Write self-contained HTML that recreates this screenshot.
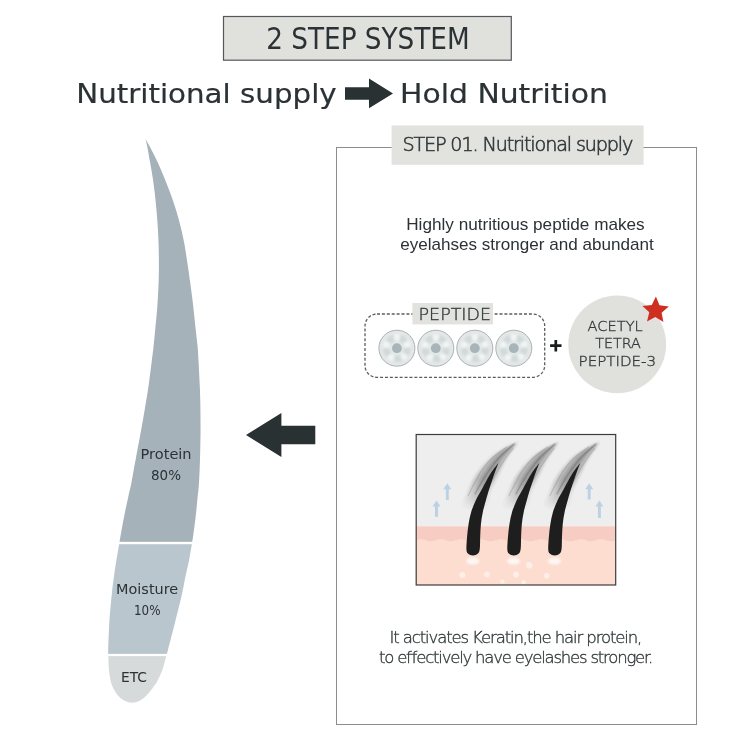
<!DOCTYPE html>
<html lang="en">
<head>
<meta charset="utf-8">
<title>2 STEP SYSTEM</title>
<style>
html,body{margin:0;padding:0;background:#fff;}
body{width:736px;height:737px;overflow:hidden;font-family:"Liberation Sans",sans-serif;}
svg{display:block;opacity:0.999;}
text{font-family:"Liberation Sans",sans-serif;fill:#2b3235;}
.m{font-family:"DejaVu Sans","Liberation Sans",sans-serif;}
.c{font-family:"DejaVu Sans Condensed","DejaVu Sans","Liberation Sans",sans-serif;}
.l{font-family:"DejaVu Sans Light","DejaVu Sans","Liberation Sans",sans-serif;font-weight:200;fill:#33393b;stroke:#33393b;stroke-width:0.35px;}
</style>
</head>
<body>
<svg width="736" height="737" viewBox="0 0 736 737">
<defs>
<filter id="bl" x="-30%" y="-30%" width="160%" height="160%"><feGaussianBlur stdDeviation="1.3"/></filter>
<filter id="bl3" x="-30%" y="-30%" width="160%" height="160%"><feGaussianBlur stdDeviation="0.9"/></filter>
<filter id="bl4" x="-30%" y="-30%" width="160%" height="160%"><feGaussianBlur stdDeviation="0.5"/></filter>
<filter id="bl2" x="-30%" y="-30%" width="160%" height="160%"><feGaussianBlur stdDeviation="1"/></filter>
<linearGradient id="sg" gradientUnits="userSpaceOnUse" x1="0" y1="-46" x2="0" y2="-76"><stop offset="0" stop-color="#4a4a4a" stop-opacity="0"/><stop offset="1" stop-color="#4a4a4a" stop-opacity="1"/></linearGradient>
<clipPath id="hc"><path d="M145.5 139.0C145.8 140.2 146.4 142.4 147.2 146.3C148.0 150.2 149.1 157.2 150.1 162.6C151.1 168.0 152.1 173.5 152.9 178.9C153.7 184.3 154.4 189.8 155.0 195.2C155.6 200.6 156.1 206.1 156.6 211.5C157.1 216.9 157.5 222.4 157.8 227.8C158.1 233.2 158.4 237.7 158.6 244.1C158.8 250.5 158.9 259.9 158.9 266.3C158.9 272.7 158.8 277.2 158.6 282.6C158.4 288.0 158.1 293.5 157.8 298.9C157.5 304.3 157.1 309.8 156.6 315.2C156.1 320.6 155.5 326.1 155.0 331.5C154.5 336.9 154.0 342.4 153.4 347.8C152.8 353.2 152.2 357.7 151.4 364.1C150.6 370.5 149.4 379.9 148.5 386.3C147.6 392.7 146.8 397.2 145.9 402.6C145.0 408.0 144.1 413.5 143.1 418.9C142.1 424.3 141.2 429.8 140.2 435.2C139.2 440.6 138.1 446.1 137.1 451.5C136.1 456.9 135.1 462.4 134.1 467.8C133.1 473.2 132.1 479.4 131.2 484.1C130.2 488.9 129.4 491.6 128.4 496.3C127.4 501.1 126.0 507.2 124.9 512.6C123.8 518.0 122.7 524.0 121.8 528.9C120.9 533.8 120.4 536.6 119.5 542.0C118.6 547.4 117.2 555.5 116.2 561.5C115.2 567.5 114.5 572.4 113.8 577.8C113.1 583.2 112.5 587.1 111.8 594.1C111.1 601.1 110.1 610.5 109.5 619.8C108.9 629.1 108.4 643.0 108.2 649.7C108.0 656.4 108.4 656.5 108.5 660.0C108.6 663.5 108.6 667.3 109.0 670.9C109.4 674.5 110.4 679.3 110.9 681.7C111.4 684.1 111.6 684.2 112.1 685.5C112.6 686.7 113.1 688.0 113.8 689.2C114.4 690.4 115.1 691.6 115.9 692.7C116.7 693.9 117.5 695.0 118.5 696.0C119.4 696.9 120.4 697.9 121.4 698.7C122.5 699.5 123.6 700.2 124.8 700.8C125.9 701.4 127.1 701.9 128.4 702.2C129.7 702.5 131.1 702.7 132.4 702.7C133.7 702.7 134.9 702.5 136.1 702.2C137.3 701.9 138.5 701.3 139.6 700.7C140.8 700.1 141.9 699.4 143.0 698.5C144.1 697.7 145.1 696.7 146.2 695.7C147.2 694.7 148.2 693.6 149.2 692.5C150.1 691.3 151.1 690.1 152.0 688.9C152.9 687.8 153.8 686.5 154.6 685.3C155.4 684.1 155.8 684.1 157.0 681.7C158.2 679.3 160.6 674.5 162.0 670.9C163.4 667.3 164.2 663.5 165.2 660.0C166.2 656.5 166.2 656.4 168.0 649.7C169.8 643.0 173.4 629.1 175.7 619.8C178.0 610.5 180.4 601.1 182.0 594.1C183.6 587.1 184.1 583.2 185.2 577.8C186.3 572.4 187.6 567.5 188.8 561.5C190.0 555.5 191.3 547.4 192.2 542.0C193.1 536.6 193.4 533.8 194.1 528.9C194.8 524.0 195.5 518.0 196.1 512.6C196.7 507.2 197.2 501.1 197.7 496.3C198.2 491.6 198.6 488.9 198.9 484.1C199.2 479.4 199.5 473.2 199.7 467.8C199.9 462.4 200.1 456.9 200.2 451.5C200.3 446.1 200.4 440.6 200.5 435.2C200.6 429.8 200.5 424.3 200.5 418.9C200.5 413.5 200.4 408.0 200.3 402.6C200.2 397.2 200.1 392.7 199.8 386.3C199.5 379.9 199.0 370.5 198.7 364.1C198.3 357.7 198.2 353.2 197.7 347.8C197.2 342.4 196.5 336.9 195.9 331.5C195.3 326.1 194.8 320.6 194.2 315.2C193.6 309.8 193.1 304.3 192.4 298.9C191.7 293.5 190.9 288.0 190.2 282.6C189.4 277.2 188.9 272.7 187.9 266.3C186.9 259.9 185.6 250.5 184.4 244.1C183.2 237.7 182.2 233.2 180.9 227.8C179.6 222.4 178.1 216.9 176.5 211.5C174.9 206.1 173.0 200.6 171.1 195.2C169.2 189.8 167.0 184.3 164.8 178.9C162.6 173.5 160.3 168.0 157.8 162.6C155.3 157.2 151.7 150.2 149.6 146.3C147.5 142.4 146.2 140.2 145.5 139.0Z"/></clipPath>
<clipPath id="ic"><rect x="416.2" y="434.5" width="199.5" height="150.5"/></clipPath>
</defs>
<rect width="736" height="737" fill="#ffffff"/>

<!-- title box -->
<rect x="223.5" y="16.5" width="287.8" height="43.7" fill="#e0e1dd" stroke="#55585a" stroke-width="1.2"/>
<text class="c" x="266.2" y="49" font-size="30.2" textLength="203.5" lengthAdjust="spacingAndGlyphs" fill="#2a2f31">2 STEP SYSTEM</text>

<!-- heading -->
<text class="m" x="76.2" y="102.8" font-size="27.3" textLength="260.5" lengthAdjust="spacingAndGlyphs" fill="#23292b" stroke="#23292b" stroke-width="0.2">Nutritional supply</text>
<path d="M345 87.2H369V78.5L393 93.4L369 108.3V99.8H345Z" fill="#2a3133"/>
<text class="m" x="400" y="102.8" font-size="27.3" textLength="208" lengthAdjust="spacingAndGlyphs" fill="#23292b" stroke="#23292b" stroke-width="0.2">Hold Nutrition</text>

<!-- panel -->
<rect x="336.5" y="147.5" width="360" height="577" fill="#fff" stroke="#8c8c8c" stroke-width="1"/>
<rect x="391.6" y="125.5" width="252" height="39.3" fill="#e2e3df"/>
<text class="l" style="stroke-width:0.6px" x="402.4" y="151.2" font-size="19.2" textLength="231" lengthAdjust="spacing">STEP 01. Nutritional supply</text>

<text x="406.2" y="229.7" font-size="16.6" textLength="238.5" lengthAdjust="spacingAndGlyphs" fill="#3c4143">Highly nutritious peptide makes</text>
<text x="400.2" y="249.7" font-size="16.6" textLength="253.5" lengthAdjust="spacingAndGlyphs" fill="#3c4143">eyelahses stronger and abundant</text>

<!-- peptide group -->
<rect x="365" y="314" width="179.7" height="63.4" rx="12" ry="12" fill="none" stroke="#5c5c5c" stroke-width="1.3" stroke-dasharray="3 1.9"/>
<rect x="412.4" y="303" width="80.6" height="21.4" fill="#e2e3df"/>
<text class="l" x="418.6" y="320.2" font-size="16.5" textLength="72.4" lengthAdjust="spacingAndGlyphs">PEPTIDE</text>
<g transform="translate(396.9 348.2)"><circle r="18" fill="#e3e7e7"/><g filter="url(#bl3)"><ellipse cx="10.1" cy="2.7" rx="4.6" ry="3.4" transform="rotate(105 10.1 2.7)" fill="#d2d9d9"/><ellipse cx="0.9" cy="10.5" rx="4.6" ry="3.4" transform="rotate(175 0.9 10.5)" fill="#d2d9d9"/><ellipse cx="-9.9" cy="3.6" rx="4.6" ry="3.4" transform="rotate(250 -9.9 3.6)" fill="#d2d9d9"/><ellipse cx="-6.0" cy="-8.6" rx="4.6" ry="3.4" transform="rotate(325 -6.0 -8.6)" fill="#d2d9d9"/><ellipse cx="6.0" cy="-8.6" rx="4.6" ry="3.4" transform="rotate(395 6.0 -8.6)" fill="#d2d9d9"/><circle cx="7.1" cy="8.4" r="3.2" fill="#f2f4f4"/><circle cx="-5.8" cy="9.3" r="3.2" fill="#f2f4f4"/><circle cx="-10.5" cy="-3.4" r="3.2" fill="#f2f4f4"/><circle cx="-0.0" cy="-11.0" r="3.2" fill="#f2f4f4"/><circle cx="10.3" cy="-3.8" r="3.2" fill="#f2f4f4"/></g><circle r="18" fill="none" stroke="#aab3b3" stroke-width="1"/><circle r="4.9" fill="#a8b5b8"/></g><g transform="translate(435.8 348.2)"><circle r="18" fill="#e3e7e7"/><g filter="url(#bl3)"><ellipse cx="10.1" cy="2.7" rx="4.6" ry="3.4" transform="rotate(105 10.1 2.7)" fill="#d2d9d9"/><ellipse cx="0.9" cy="10.5" rx="4.6" ry="3.4" transform="rotate(175 0.9 10.5)" fill="#d2d9d9"/><ellipse cx="-9.9" cy="3.6" rx="4.6" ry="3.4" transform="rotate(250 -9.9 3.6)" fill="#d2d9d9"/><ellipse cx="-6.0" cy="-8.6" rx="4.6" ry="3.4" transform="rotate(325 -6.0 -8.6)" fill="#d2d9d9"/><ellipse cx="6.0" cy="-8.6" rx="4.6" ry="3.4" transform="rotate(395 6.0 -8.6)" fill="#d2d9d9"/><circle cx="7.1" cy="8.4" r="3.2" fill="#f2f4f4"/><circle cx="-5.8" cy="9.3" r="3.2" fill="#f2f4f4"/><circle cx="-10.5" cy="-3.4" r="3.2" fill="#f2f4f4"/><circle cx="-0.0" cy="-11.0" r="3.2" fill="#f2f4f4"/><circle cx="10.3" cy="-3.8" r="3.2" fill="#f2f4f4"/></g><circle r="18" fill="none" stroke="#aab3b3" stroke-width="1"/><circle r="4.9" fill="#a8b5b8"/></g><g transform="translate(474.8 348.2)"><circle r="18" fill="#e3e7e7"/><g filter="url(#bl3)"><ellipse cx="10.1" cy="2.7" rx="4.6" ry="3.4" transform="rotate(105 10.1 2.7)" fill="#d2d9d9"/><ellipse cx="0.9" cy="10.5" rx="4.6" ry="3.4" transform="rotate(175 0.9 10.5)" fill="#d2d9d9"/><ellipse cx="-9.9" cy="3.6" rx="4.6" ry="3.4" transform="rotate(250 -9.9 3.6)" fill="#d2d9d9"/><ellipse cx="-6.0" cy="-8.6" rx="4.6" ry="3.4" transform="rotate(325 -6.0 -8.6)" fill="#d2d9d9"/><ellipse cx="6.0" cy="-8.6" rx="4.6" ry="3.4" transform="rotate(395 6.0 -8.6)" fill="#d2d9d9"/><circle cx="7.1" cy="8.4" r="3.2" fill="#f2f4f4"/><circle cx="-5.8" cy="9.3" r="3.2" fill="#f2f4f4"/><circle cx="-10.5" cy="-3.4" r="3.2" fill="#f2f4f4"/><circle cx="-0.0" cy="-11.0" r="3.2" fill="#f2f4f4"/><circle cx="10.3" cy="-3.8" r="3.2" fill="#f2f4f4"/></g><circle r="18" fill="none" stroke="#aab3b3" stroke-width="1"/><circle r="4.9" fill="#a8b5b8"/></g><g transform="translate(513.8 348.2)"><circle r="18" fill="#e3e7e7"/><g filter="url(#bl3)"><ellipse cx="10.1" cy="2.7" rx="4.6" ry="3.4" transform="rotate(105 10.1 2.7)" fill="#d2d9d9"/><ellipse cx="0.9" cy="10.5" rx="4.6" ry="3.4" transform="rotate(175 0.9 10.5)" fill="#d2d9d9"/><ellipse cx="-9.9" cy="3.6" rx="4.6" ry="3.4" transform="rotate(250 -9.9 3.6)" fill="#d2d9d9"/><ellipse cx="-6.0" cy="-8.6" rx="4.6" ry="3.4" transform="rotate(325 -6.0 -8.6)" fill="#d2d9d9"/><ellipse cx="6.0" cy="-8.6" rx="4.6" ry="3.4" transform="rotate(395 6.0 -8.6)" fill="#d2d9d9"/><circle cx="7.1" cy="8.4" r="3.2" fill="#f2f4f4"/><circle cx="-5.8" cy="9.3" r="3.2" fill="#f2f4f4"/><circle cx="-10.5" cy="-3.4" r="3.2" fill="#f2f4f4"/><circle cx="-0.0" cy="-11.0" r="3.2" fill="#f2f4f4"/><circle cx="10.3" cy="-3.8" r="3.2" fill="#f2f4f4"/></g><circle r="18" fill="none" stroke="#aab3b3" stroke-width="1"/><circle r="4.9" fill="#a8b5b8"/></g>
<path d="M550.1 345.7H561.5M555.8 340V351.4" stroke="#1a1d1e" stroke-width="2.7" fill="none"/>
<circle cx="617.2" cy="344.4" r="48.9" fill="#e0e1dd"/>
<text class="l" x="587.6" y="330.5" font-size="14" textLength="55.1" lengthAdjust="spacingAndGlyphs">ACETYL</text>
<text class="l" x="595.2" y="348.3" font-size="14" textLength="45.6" lengthAdjust="spacingAndGlyphs">TETRA</text>
<text class="l" x="578.6" y="366.1" font-size="14" textLength="77.4" lengthAdjust="spacingAndGlyphs">PEPTIDE-3</text>
<polygon points="655.9,296.6 659.5,305.3 668.8,306.6 661.6,312.7 663.4,322.0 655.3,317.0 647.0,321.5 649.3,312.3 642.4,305.9 651.8,305.1" fill="#cf2f20"/>

<!-- hair illustration -->
<rect x="415.7" y="434" width="200.1" height="150.7" fill="#efeeee"/>
<g clip-path="url(#ic)">
<rect x="415.7" y="526.6" width="200.1" height="58.7" fill="#fcddd0"/>
<path d="M415.7 526.6H615.8V540.2 q-5 2 -10 0 t-10 0 t-10 0 t-10 0 t-10 0 t-10 0 t-10 0 t-10 0 t-10 0 t-10 0 t-10 0 t-10 0 t-10 0 t-10 0 t-10 0 t-10 0 t-10 0 t-10 0 t-10 0 t-10.1 0Z" fill="#f7cdc3"/>
<path d="M447.3 483.2L451.3 489.2H448.8V499.9H445.8V489.2H443.3Z" fill="#bcd2e4"/><path d="M436.5 500.5L440.5 506.5H438.0V516.8H435.0V506.5H432.5Z" fill="#bcd2e4"/><path d="M589.2 483.2L593.2 489.2H590.7V499.4H587.7V489.2H585.2Z" fill="#bcd2e4"/><path d="M599.4 500.5L603.4 506.5H600.9V517.9H597.9V506.5H595.4Z" fill="#bcd2e4"/>
<ellipse cx="472.7" cy="561" rx="6.5" ry="3.6" fill="#fff" opacity="0.75" filter="url(#bl2)"/><ellipse cx="513.6" cy="561" rx="6.5" ry="3.6" fill="#fff" opacity="0.75" filter="url(#bl2)"/><ellipse cx="554.5" cy="561" rx="6.5" ry="3.6" fill="#fff" opacity="0.75" filter="url(#bl2)"/>
<circle cx="462.3" cy="574.9" r="3" fill="#fdefe7"/><circle cx="486.9" cy="574.4" r="2.8" fill="#fdefe7"/><circle cx="516" cy="574.4" r="3" fill="#fdefe7"/><circle cx="529.3" cy="565.3" r="3.2" fill="#fdefe7"/><circle cx="546.8" cy="575.8" r="2.8" fill="#fdefe7"/><circle cx="502.4" cy="581.4" r="2.2" fill="#fdefe7"/><circle cx="523.6" cy="582.3" r="2.2" fill="#fdefe7"/>
<g transform="translate(472.7 555.6)"><g filter="url(#bl)" fill="url(#sg)"><path d="M44.7 -113.3C42.9 -112.5 38.3 -111.2 33.8 -108.6C29.3 -106.0 22.8 -102.5 17.6 -97.8C12.4 -93.0 6.4 -85.9 2.6 -80.1C-1.3 -74.3 -3.5 -68.3 -5.5 -63.0C-7.5 -57.6 -12.5 -50.5 -9.5 -48.0C-6.5 -45.5 8.0 -45.4 12.5 -48.0C17.0 -50.6 15.4 -58.4 17.6 -63.8C19.8 -69.1 23.0 -74.7 25.7 -80.1C28.4 -85.5 31.1 -91.7 33.8 -96.4C36.5 -101.2 40.2 -105.8 42.0 -108.6C43.8 -111.4 44.2 -112.5 44.7 -113.3Z" opacity="0.2"/><path d="M44.7 -113.3C43.1 -112.5 39.2 -111.2 35.1 -108.6C31.1 -106.0 25.0 -102.5 20.2 -97.8C15.4 -93.0 10.0 -85.9 6.3 -80.1C2.6 -74.3 0.2 -68.3 -1.8 -63.0C-3.9 -57.6 -7.8 -50.5 -6.0 -48.0C-4.2 -45.5 5.7 -45.4 9.0 -48.0C12.3 -50.6 11.7 -58.4 13.9 -63.8C16.1 -69.1 19.1 -74.7 22.0 -80.1C24.9 -85.5 28.1 -91.7 31.2 -96.4C34.3 -101.2 38.5 -105.8 40.7 -108.6C43.0 -111.4 44.0 -112.5 44.7 -113.3Z" opacity="0.2"/><path d="M44.7 -113.3C43.3 -112.5 40.1 -111.2 36.5 -108.6C32.8 -106.0 27.2 -102.5 22.8 -97.8C18.4 -93.0 13.5 -85.9 10.0 -80.1C6.5 -74.3 3.9 -68.3 1.9 -63.0C-0.2 -57.6 -3.1 -50.5 -2.5 -48.0C-1.9 -45.5 3.4 -45.4 5.5 -48.0C7.6 -50.6 8.0 -58.4 10.2 -63.8C12.3 -69.1 15.3 -74.7 18.3 -80.1C21.4 -85.5 25.1 -91.7 28.6 -96.4C32.1 -101.2 36.8 -105.8 39.4 -108.6C42.1 -111.4 43.8 -112.5 44.7 -113.3Z" opacity="0.22"/></g><g fill="none" stroke="#555" stroke-linecap="round" filter="url(#bl4)"><path d="M-4.5 -60.0C-3.5 -62.0 -0.8 -67.8 1.5 -72.0C3.8 -76.2 5.9 -80.7 9.0 -85.0C12.1 -89.3 15.8 -94.1 20.0 -98.0C24.2 -101.9 31.7 -106.8 34.0 -108.5" stroke-width="1.3" opacity="0.22"/><path d="M2.5 -62.0C3.4 -63.7 5.8 -68.3 8.0 -72.0C10.2 -75.7 12.4 -79.7 15.5 -84.0C18.6 -88.3 22.2 -93.4 26.5 -98.0C30.8 -102.6 38.6 -109.2 41.0 -111.5" stroke-width="1.6" opacity="0.3"/><path d="M13.5 -62.0C14.4 -64.0 17.1 -70.2 19.0 -74.0C20.9 -77.8 22.8 -81.3 25.0 -85.0C27.2 -88.7 29.4 -92.3 32.0 -96.0C34.6 -99.7 39.1 -105.2 40.5 -107.0" stroke-width="1.2" opacity="0.2"/></g><path d="M25.7 -92.5C24.4 -90.7 20.3 -85.8 17.6 -81.5C14.9 -77.2 11.7 -70.9 9.3 -66.6C6.9 -62.3 5.0 -59.5 3.2 -55.6C1.4 -51.7 -0.4 -47.5 -1.6 -43.4C-2.8 -39.3 -3.5 -35.3 -4.2 -31.2C-4.9 -27.1 -5.2 -23.1 -5.6 -19.0C-5.9 -14.9 -6.4 -9.6 -6.3 -6.8C-6.2 -4.0 -5.9 -3.1 -4.8 -2.0C-3.7 -0.9 -1.5 0.0 0.2 0.0C1.9 0.0 4.2 -0.9 5.3 -2.0C6.4 -3.1 6.7 -4.0 7.1 -6.8C7.5 -9.6 7.3 -14.9 7.5 -19.0C7.7 -23.1 7.8 -27.1 8.2 -31.2C8.6 -35.3 9.2 -39.3 10.1 -43.4C10.9 -47.5 12.2 -51.7 13.3 -55.6C14.4 -59.5 15.5 -63.4 16.5 -66.6C17.5 -69.8 18.2 -71.8 19.2 -74.7C20.2 -77.6 21.4 -81.0 22.5 -84.0C23.6 -87.0 25.2 -91.1 25.7 -92.5Z" fill="#1e1e1e"/></g><g transform="translate(513.6 555.6)"><g filter="url(#bl)" fill="url(#sg)"><path d="M44.7 -113.3C42.9 -112.5 38.3 -111.2 33.8 -108.6C29.3 -106.0 22.8 -102.5 17.6 -97.8C12.4 -93.0 6.4 -85.9 2.6 -80.1C-1.3 -74.3 -3.5 -68.3 -5.5 -63.0C-7.5 -57.6 -12.5 -50.5 -9.5 -48.0C-6.5 -45.5 8.0 -45.4 12.5 -48.0C17.0 -50.6 15.4 -58.4 17.6 -63.8C19.8 -69.1 23.0 -74.7 25.7 -80.1C28.4 -85.5 31.1 -91.7 33.8 -96.4C36.5 -101.2 40.2 -105.8 42.0 -108.6C43.8 -111.4 44.2 -112.5 44.7 -113.3Z" opacity="0.2"/><path d="M44.7 -113.3C43.1 -112.5 39.2 -111.2 35.1 -108.6C31.1 -106.0 25.0 -102.5 20.2 -97.8C15.4 -93.0 10.0 -85.9 6.3 -80.1C2.6 -74.3 0.2 -68.3 -1.8 -63.0C-3.9 -57.6 -7.8 -50.5 -6.0 -48.0C-4.2 -45.5 5.7 -45.4 9.0 -48.0C12.3 -50.6 11.7 -58.4 13.9 -63.8C16.1 -69.1 19.1 -74.7 22.0 -80.1C24.9 -85.5 28.1 -91.7 31.2 -96.4C34.3 -101.2 38.5 -105.8 40.7 -108.6C43.0 -111.4 44.0 -112.5 44.7 -113.3Z" opacity="0.2"/><path d="M44.7 -113.3C43.3 -112.5 40.1 -111.2 36.5 -108.6C32.8 -106.0 27.2 -102.5 22.8 -97.8C18.4 -93.0 13.5 -85.9 10.0 -80.1C6.5 -74.3 3.9 -68.3 1.9 -63.0C-0.2 -57.6 -3.1 -50.5 -2.5 -48.0C-1.9 -45.5 3.4 -45.4 5.5 -48.0C7.6 -50.6 8.0 -58.4 10.2 -63.8C12.3 -69.1 15.3 -74.7 18.3 -80.1C21.4 -85.5 25.1 -91.7 28.6 -96.4C32.1 -101.2 36.8 -105.8 39.4 -108.6C42.1 -111.4 43.8 -112.5 44.7 -113.3Z" opacity="0.22"/></g><g fill="none" stroke="#555" stroke-linecap="round" filter="url(#bl4)"><path d="M-4.5 -60.0C-3.5 -62.0 -0.8 -67.8 1.5 -72.0C3.8 -76.2 5.9 -80.7 9.0 -85.0C12.1 -89.3 15.8 -94.1 20.0 -98.0C24.2 -101.9 31.7 -106.8 34.0 -108.5" stroke-width="1.3" opacity="0.22"/><path d="M2.5 -62.0C3.4 -63.7 5.8 -68.3 8.0 -72.0C10.2 -75.7 12.4 -79.7 15.5 -84.0C18.6 -88.3 22.2 -93.4 26.5 -98.0C30.8 -102.6 38.6 -109.2 41.0 -111.5" stroke-width="1.6" opacity="0.3"/><path d="M13.5 -62.0C14.4 -64.0 17.1 -70.2 19.0 -74.0C20.9 -77.8 22.8 -81.3 25.0 -85.0C27.2 -88.7 29.4 -92.3 32.0 -96.0C34.6 -99.7 39.1 -105.2 40.5 -107.0" stroke-width="1.2" opacity="0.2"/></g><path d="M25.7 -92.5C24.4 -90.7 20.3 -85.8 17.6 -81.5C14.9 -77.2 11.7 -70.9 9.3 -66.6C6.9 -62.3 5.0 -59.5 3.2 -55.6C1.4 -51.7 -0.4 -47.5 -1.6 -43.4C-2.8 -39.3 -3.5 -35.3 -4.2 -31.2C-4.9 -27.1 -5.2 -23.1 -5.6 -19.0C-5.9 -14.9 -6.4 -9.6 -6.3 -6.8C-6.2 -4.0 -5.9 -3.1 -4.8 -2.0C-3.7 -0.9 -1.5 0.0 0.2 0.0C1.9 0.0 4.2 -0.9 5.3 -2.0C6.4 -3.1 6.7 -4.0 7.1 -6.8C7.5 -9.6 7.3 -14.9 7.5 -19.0C7.7 -23.1 7.8 -27.1 8.2 -31.2C8.6 -35.3 9.2 -39.3 10.1 -43.4C10.9 -47.5 12.2 -51.7 13.3 -55.6C14.4 -59.5 15.5 -63.4 16.5 -66.6C17.5 -69.8 18.2 -71.8 19.2 -74.7C20.2 -77.6 21.4 -81.0 22.5 -84.0C23.6 -87.0 25.2 -91.1 25.7 -92.5Z" fill="#1e1e1e"/></g><g transform="translate(554.5 555.6)"><g filter="url(#bl)" fill="url(#sg)"><path d="M44.7 -113.3C42.9 -112.5 38.3 -111.2 33.8 -108.6C29.3 -106.0 22.8 -102.5 17.6 -97.8C12.4 -93.0 6.4 -85.9 2.6 -80.1C-1.3 -74.3 -3.5 -68.3 -5.5 -63.0C-7.5 -57.6 -12.5 -50.5 -9.5 -48.0C-6.5 -45.5 8.0 -45.4 12.5 -48.0C17.0 -50.6 15.4 -58.4 17.6 -63.8C19.8 -69.1 23.0 -74.7 25.7 -80.1C28.4 -85.5 31.1 -91.7 33.8 -96.4C36.5 -101.2 40.2 -105.8 42.0 -108.6C43.8 -111.4 44.2 -112.5 44.7 -113.3Z" opacity="0.2"/><path d="M44.7 -113.3C43.1 -112.5 39.2 -111.2 35.1 -108.6C31.1 -106.0 25.0 -102.5 20.2 -97.8C15.4 -93.0 10.0 -85.9 6.3 -80.1C2.6 -74.3 0.2 -68.3 -1.8 -63.0C-3.9 -57.6 -7.8 -50.5 -6.0 -48.0C-4.2 -45.5 5.7 -45.4 9.0 -48.0C12.3 -50.6 11.7 -58.4 13.9 -63.8C16.1 -69.1 19.1 -74.7 22.0 -80.1C24.9 -85.5 28.1 -91.7 31.2 -96.4C34.3 -101.2 38.5 -105.8 40.7 -108.6C43.0 -111.4 44.0 -112.5 44.7 -113.3Z" opacity="0.2"/><path d="M44.7 -113.3C43.3 -112.5 40.1 -111.2 36.5 -108.6C32.8 -106.0 27.2 -102.5 22.8 -97.8C18.4 -93.0 13.5 -85.9 10.0 -80.1C6.5 -74.3 3.9 -68.3 1.9 -63.0C-0.2 -57.6 -3.1 -50.5 -2.5 -48.0C-1.9 -45.5 3.4 -45.4 5.5 -48.0C7.6 -50.6 8.0 -58.4 10.2 -63.8C12.3 -69.1 15.3 -74.7 18.3 -80.1C21.4 -85.5 25.1 -91.7 28.6 -96.4C32.1 -101.2 36.8 -105.8 39.4 -108.6C42.1 -111.4 43.8 -112.5 44.7 -113.3Z" opacity="0.22"/></g><g fill="none" stroke="#555" stroke-linecap="round" filter="url(#bl4)"><path d="M-4.5 -60.0C-3.5 -62.0 -0.8 -67.8 1.5 -72.0C3.8 -76.2 5.9 -80.7 9.0 -85.0C12.1 -89.3 15.8 -94.1 20.0 -98.0C24.2 -101.9 31.7 -106.8 34.0 -108.5" stroke-width="1.3" opacity="0.22"/><path d="M2.5 -62.0C3.4 -63.7 5.8 -68.3 8.0 -72.0C10.2 -75.7 12.4 -79.7 15.5 -84.0C18.6 -88.3 22.2 -93.4 26.5 -98.0C30.8 -102.6 38.6 -109.2 41.0 -111.5" stroke-width="1.6" opacity="0.3"/><path d="M13.5 -62.0C14.4 -64.0 17.1 -70.2 19.0 -74.0C20.9 -77.8 22.8 -81.3 25.0 -85.0C27.2 -88.7 29.4 -92.3 32.0 -96.0C34.6 -99.7 39.1 -105.2 40.5 -107.0" stroke-width="1.2" opacity="0.2"/></g><path d="M25.7 -92.5C24.4 -90.7 20.3 -85.8 17.6 -81.5C14.9 -77.2 11.7 -70.9 9.3 -66.6C6.9 -62.3 5.0 -59.5 3.2 -55.6C1.4 -51.7 -0.4 -47.5 -1.6 -43.4C-2.8 -39.3 -3.5 -35.3 -4.2 -31.2C-4.9 -27.1 -5.2 -23.1 -5.6 -19.0C-5.9 -14.9 -6.4 -9.6 -6.3 -6.8C-6.2 -4.0 -5.9 -3.1 -4.8 -2.0C-3.7 -0.9 -1.5 0.0 0.2 0.0C1.9 0.0 4.2 -0.9 5.3 -2.0C6.4 -3.1 6.7 -4.0 7.1 -6.8C7.5 -9.6 7.3 -14.9 7.5 -19.0C7.7 -23.1 7.8 -27.1 8.2 -31.2C8.6 -35.3 9.2 -39.3 10.1 -43.4C10.9 -47.5 12.2 -51.7 13.3 -55.6C14.4 -59.5 15.5 -63.4 16.5 -66.6C17.5 -69.8 18.2 -71.8 19.2 -74.7C20.2 -77.6 21.4 -81.0 22.5 -84.0C23.6 -87.0 25.2 -91.1 25.7 -92.5Z" fill="#1e1e1e"/></g>
</g>
<rect x="416.2" y="434.5" width="199.5" height="150.5" fill="none" stroke="#3c3c3c" stroke-width="1.2"/>

<text class="l" x="389.6" y="642.7" font-size="16.5" textLength="252.7" lengthAdjust="spacing">It activates Keratin,the hair protein,</text>
<text class="l" x="379" y="662.5" font-size="16.5" textLength="274.3" lengthAdjust="spacing">to effectively have eyelashes stronger.</text>

<!-- left hair diagram -->
<g clip-path="url(#hc)">
<rect x="100" y="130" width="110" height="411.8" fill="#a5b2b9"/>
<rect x="100" y="544.2" width="110" height="109.7" fill="#bac6ce"/>
<rect x="100" y="656.1" width="110" height="50" fill="#d7dadb"/>
</g>
<text class="m" x="140.6" y="458.8" font-size="14.1" textLength="51" lengthAdjust="spacingAndGlyphs" fill="#2f383c">Protein</text>
<text class="m" x="151" y="480" font-size="14.1" textLength="30" lengthAdjust="spacingAndGlyphs" fill="#2f383c">80%</text>
<text class="m" x="116.1" y="594" font-size="13.7" textLength="62.1" lengthAdjust="spacingAndGlyphs" fill="#2f383c">Moisture</text>
<text class="m" x="134" y="614.5" font-size="13.7" textLength="26.5" lengthAdjust="spacingAndGlyphs" fill="#2f383c">10%</text>
<text class="m" x="121" y="681.7" font-size="13.4" textLength="26" lengthAdjust="spacingAndGlyphs" fill="#2f383c">ETC</text>
<path d="M246 435L281.4 412.9V425.8H315.3V444.2H281.4V457Z" fill="#2a3133"/>

</svg>
</body>
</html>
